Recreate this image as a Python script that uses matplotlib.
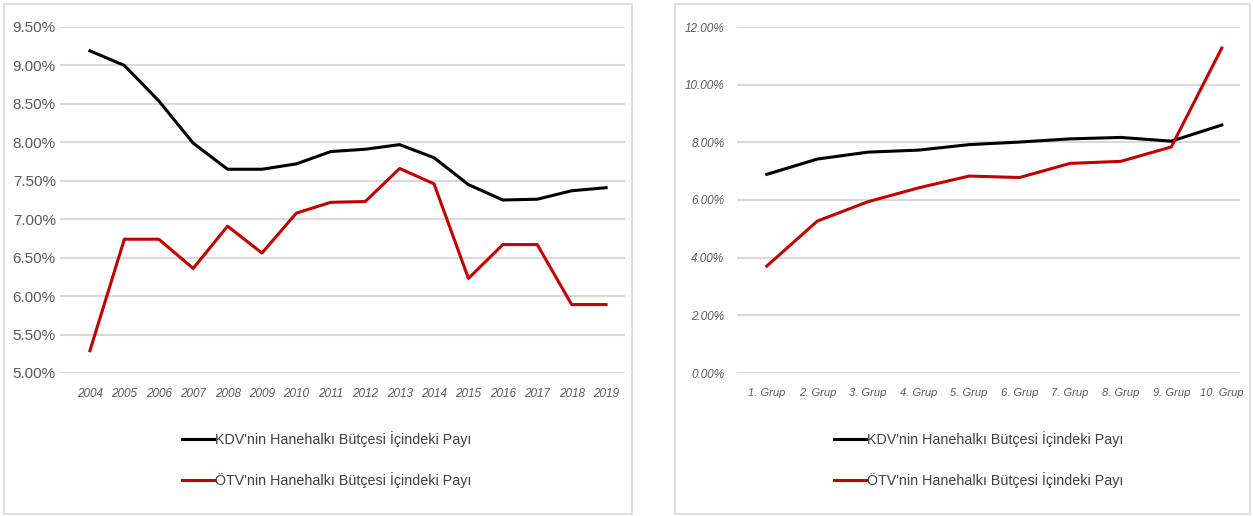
import matplotlib.pyplot as plt
from matplotlib.patches import Rectangle
from matplotlib.ticker import FuncFormatter

years = ["2004", "2005", "2006", "2007", "2008", "2009", "2010", "2011",
         "2012", "2013", "2014", "2015", "2016", "2017", "2018", "2019"]
kdv_years = [9.19, 9.00, 8.54, 7.99, 7.65, 7.65, 7.72, 7.88,
             7.91, 7.97, 7.80, 7.45, 7.25, 7.26, 7.37, 7.41]
otv_years = [5.29, 6.74, 6.74, 6.36, 6.91, 6.56, 7.08, 7.22,
             7.23, 7.66, 7.46, 6.23, 6.67, 6.67, 5.89, 5.89]

groups = ["1. Grup", "2. Grup", "3. Grup", "4. Grup", "5. Grup",
          "6. Grup", "7. Grup", "8. Grup", "9. Grup", "10. Grup"]
kdv_groups = [6.89, 7.42, 7.66, 7.73, 7.92, 8.01, 8.12, 8.17, 8.04, 8.60]
otv_groups = [3.71, 5.27, 5.94, 6.42, 6.83, 6.78, 7.27, 7.34, 7.84, 11.27]

labels = ["KDV'nin Hanehalkı Bütçesi İçindeki Payı",
          "ÖTV'nin Hanehalkı Bütçesi İçindeki Payı"]

plt.rcParams["font.family"] = ["Liberation Sans", "DejaVu Sans"]
GRAY = "#595959"
GRID = "#d9d9d9"
BLACK = "#000000"
RED = "#c00000"

W, H = 1253, 516
fig = plt.figure(figsize=(W / 100, H / 100), dpi=100)


def px_box(x0, y0, x1, y1):
    # pixel box (top-left origin) -> figure fraction rect
    return [x0 / W, 1 - y1 / H, (x1 - x0) / W, (y1 - y0) / H]


# panel frames
for x0, x1 in [(4, 632), (675, 1250)]:
    fig.patches.append(Rectangle((x0 / W, 2 / H), (x1 - x0) / W, (H - 6) / H,
                                 transform=fig.transFigure, fill=False,
                                 edgecolor=GRID, linewidth=1.2))


def style(ax):
    for s in ax.spines.values():
        s.set_visible(False)
    ax.yaxis.grid(True, color=GRID, linewidth=1.5)
    ax.set_axisbelow(True)
    ax.tick_params(length=0, colors=GRAY)


ax1 = fig.add_axes(px_box(60, 27, 625, 373))
x1 = range(len(years))
l1, = ax1.plot(x1, kdv_years, color=BLACK, lw=2.2)
l2, = ax1.plot(x1, otv_years, color=RED, lw=2.2)
ax1.set_xlim(-0.87, 15.55)
ax1.set_ylim(5.0, 9.5)
ax1.set_yticks([5.0 + 0.5 * i for i in range(10)])
ax1.yaxis.set_major_formatter(FuncFormatter(lambda v, p: f"{v:.2f}%"))
ax1.set_xticks(list(x1))
ax1.set_xticklabels(years, fontsize=8.5, style="italic")
ax1.tick_params(axis="y", labelsize=11, pad=3)
ax1.tick_params(axis="x", pad=11)
style(ax1)
ax1.legend([l1, l2], labels, loc="upper left", bbox_to_anchor=(0.194, -0.13),
           frameon=False, fontsize=10.3, handlelength=2.2, handletextpad=0.1,
           labelspacing=1.75, labelcolor="#404040")

ax2 = fig.add_axes(px_box(737, 27, 1240, 373))
x2 = range(len(groups))
m1, = ax2.plot(x2, kdv_groups, color=BLACK, lw=2.2)
m2, = ax2.plot(x2, otv_groups, color=RED, lw=2.2)
ax2.set_xlim(-0.59, 9.36)
ax2.set_ylim(0, 12)
ax2.set_yticks([0, 2, 4, 6, 8, 10, 12])
ax2.yaxis.set_major_formatter(FuncFormatter(lambda v, p: f"{v:.2f}%"))
ax2.set_xticks(list(x2))
ax2.set_xticklabels(groups, fontsize=8, style="italic")
for t in ax2.get_yticklabels():
    t.set_style("italic")
ax2.tick_params(axis="y", labelsize=8.5, pad=9)
ax2.tick_params(axis="x", pad=11)
style(ax2)
ax2.legend([m1, m2], labels, loc="upper left", bbox_to_anchor=(0.168, -0.13),
           frameon=False, fontsize=10.3, handlelength=2.2, handletextpad=0.1,
           labelspacing=1.75, labelcolor="#404040")

fig.savefig("out.png", dpi=100)
